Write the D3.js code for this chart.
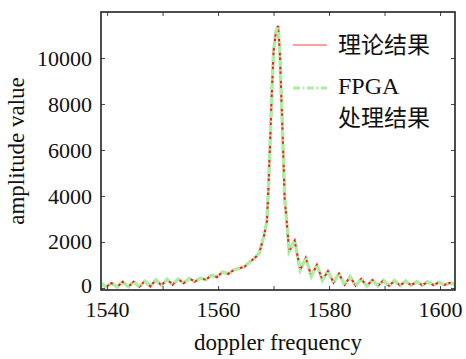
<!DOCTYPE html>
<html>
<head>
<meta charset="utf-8">
<script src="https://cdn.jsdelivr.net/npm/d3@7/dist/d3.min.js"></script>
<style>
  html, body { margin: 0; padding: 0; background: #fff; }
  svg { display: block; }
</style>
</head>
<body>
<svg id="chart" width="466" height="359"></svg>
<script>
// ---- data ----
const freq = [1538.9, 1539.8, 1540.8, 1541.8, 1542.8, 1543.8, 1544.8, 1545.8, 1546.8, 1547.8,
  1548.8, 1549.8, 1550.8, 1551.8, 1552.8, 1553.8, 1554.8, 1555.8, 1556.8, 1557.8,
  1558.8, 1559.8, 1560.8, 1561.8, 1562.8, 1563.8, 1564.8, 1565.8, 1566.8, 1567.4,
  1567.8, 1568.3, 1568.8, 1569.1, 1569.4, 1569.7, 1570.0, 1570.4, 1570.8, 1571.1,
  1571.4, 1571.7, 1572.0, 1572.4, 1572.8, 1573.8, 1574.8, 1575.8, 1576.8, 1577.8,
  1578.8, 1579.8, 1580.8, 1581.8, 1582.8, 1583.8, 1584.8, 1585.8, 1586.8, 1587.8,
  1588.8, 1589.8, 1590.8, 1591.8, 1592.8, 1593.8, 1594.8, 1595.8, 1596.8, 1597.8,
  1598.8, 1599.8, 1600.8, 1601.8, 1602.7];
const theory = [200, 40, 210, 40, 270, 50, 270, 50, 300, 70,
  350, 110, 380, 140, 390, 200, 420, 270, 430, 350,
  560, 470, 700, 610, 780, 850, 930, 1140, 1350, 1500,
  1850, 2300, 2900, 4500, 6500, 8600, 10300, 11100, 11400, 10400,
  8300, 6200, 3900, 2800, 1600, 2050, 790, 1300, 520, 1000,
  340, 730, 240, 620, 140, 480, 100, 390, 90, 340,
  100, 320, 90, 310, 110, 290, 120, 270, 120, 260,
  130, 240, 140, 220, 150];
const fpga = [210, 50, 200, 50, 260, 60, 280, 40, 290, 80,
  340, 120, 370, 150, 380, 210, 410, 280, 420, 360,
  550, 480, 690, 620, 770, 860, 920, 1150, 1340, 1510,
  1840, 2310, 2890, 4520, 6480, 8620, 10280, 11120, 11380, 10420,
  8280, 6220, 3880, 2820, 1590, 2060, 780, 1310, 510, 1010,
  330, 740, 230, 630, 130, 490, 90, 400, 80, 350,
  90, 330, 80, 320, 100, 300, 110, 280, 110, 270,
  120, 250, 130, 230, 140];
const xTicks = [1540, 1550, 1560, 1570, 1580, 1590, 1600];
const xTickLabels = [1540, 1560, 1580, 1600];
const yTicks = [0, 2000, 4000, 6000, 8000, 10000];
const seriesNames = ["理论结果", "FPGA", "处理结果"];
const xTitle = "doppler frequency";
const yTitle = "amplitude value";

// ---- layout ----
const W = 466, H = 359;
const L = 101, R = 455, T = 12, B = 290;
const serif = "Liberation Serif, Times New Roman, serif";
const cjk = "Noto Sans CJK SC, Liberation Serif, sans-serif";

const svg = d3.select("#chart");
const x = d3.scaleLinear().domain([1538.9, 1602.7]).range([L, R]);
const y = d3.scaleLinear().domain([-90, 12000]).range([B, T]);

const rows = freq.map((f, i) => ({f, t: theory[i], p: fpga[i]}));

svg.append("defs").append("clipPath").attr("id", "clip")
  .append("rect").attr("x", L).attr("y", T).attr("width", R - L).attr("height", B - T);

const plot = svg.append("g").attr("clip-path", "url(#clip)");

const lineT = d3.line().x(d => x(d.f)).y(d => y(d.t));
const lineP = d3.line().x(d => x(d.f)).y(d => y(d.p));

plot.append("path").datum(rows).attr("d", lineT)
  .attr("fill", "none").attr("stroke", "#ff1a1a").attr("stroke-width", 2.2);
plot.append("path").datum(rows).attr("d", lineP)
  .attr("fill", "none").attr("stroke", "#a8f0a0").attr("stroke-width", 3.4)
  .attr("stroke-dasharray", "7,2.5,2,2.5");

// axes
const fmt = d3.format("d");
const tickFmt = d => xTickLabels.includes(d) ? fmt(d) : "";
const axB = svg.append("g").attr("transform", `translate(0,${B})`)
  .call(d3.axisBottom(x).tickValues(xTicks).tickFormat(tickFmt).tickSizeInner(-4).tickSizeOuter(0).tickPadding(11));
const axT = svg.append("g").attr("transform", `translate(0,${T})`)
  .call(d3.axisTop(x).tickValues(xTicks).tickFormat("").tickSizeInner(-4).tickSizeOuter(0));
const axL = svg.append("g").attr("transform", `translate(${L},0)`)
  .call(d3.axisLeft(y).tickValues(yTicks).tickFormat(fmt).tickSizeInner(-4).tickSizeOuter(0).tickPadding(9));
const axR = svg.append("g").attr("transform", `translate(${R},0)`)
  .call(d3.axisRight(y).tickValues(yTicks).tickFormat("").tickSizeInner(-4).tickSizeOuter(0));

[axB, axT, axL, axR].forEach(g => {
  g.attr("font-family", serif).attr("font-size", 22);
  g.select(".domain").remove();
  g.selectAll(".tick line").attr("stroke", "#444").attr("stroke-width", 1);
  g.selectAll("text").attr("fill", "#111").attr("font-family", serif).attr("font-size", 22);
});
// keep the "0" label clear of the "1540" label below it
axL.selectAll(".tick text").filter(d => d === 0).attr("dy", "0.22em");

// frame
svg.append("rect").attr("x", L).attr("y", T).attr("width", R - L).attr("height", B - T)
  .attr("fill", "none").attr("stroke", "#222").attr("stroke-width", 1.6);

// titles
svg.append("text").attr("x", (L + R) / 2).attr("y", 350).attr("text-anchor", "middle")
  .attr("font-family", serif).attr("font-size", 23).attr("fill", "#111").text(xTitle);
svg.append("text").attr("transform", `translate(24,${(T + B) / 2}) rotate(-90)`)
  .attr("text-anchor", "middle")
  .attr("font-family", serif).attr("font-size", 23).attr("fill", "#111").text(yTitle);

// legend
const lg = svg.append("g");
lg.append("line").attr("x1", 293).attr("x2", 327).attr("y1", 45).attr("y2", 45)
  .attr("stroke", "#ff4040").attr("stroke-width", 1.2);
lg.append("text").attr("x", 338).attr("y", 53).attr("font-family", cjk).attr("font-size", 23)
  .attr("fill", "#111").text(seriesNames[0]);
lg.append("line").attr("x1", 293).attr("x2", 327).attr("y1", 88).attr("y2", 88)
  .attr("stroke", "#a8f0a0").attr("stroke-width", 3).attr("stroke-dasharray", "7,2.5,2,2.5");
lg.append("text").attr("x", 338).attr("y", 94).attr("font-family", serif).attr("font-size", 24)
  .attr("fill", "#111").text(seriesNames[1]);
lg.append("text").attr("x", 338).attr("y", 126).attr("font-family", cjk).attr("font-size", 23)
  .attr("fill", "#111").text(seriesNames[2]);
</script>
</body>
</html>
